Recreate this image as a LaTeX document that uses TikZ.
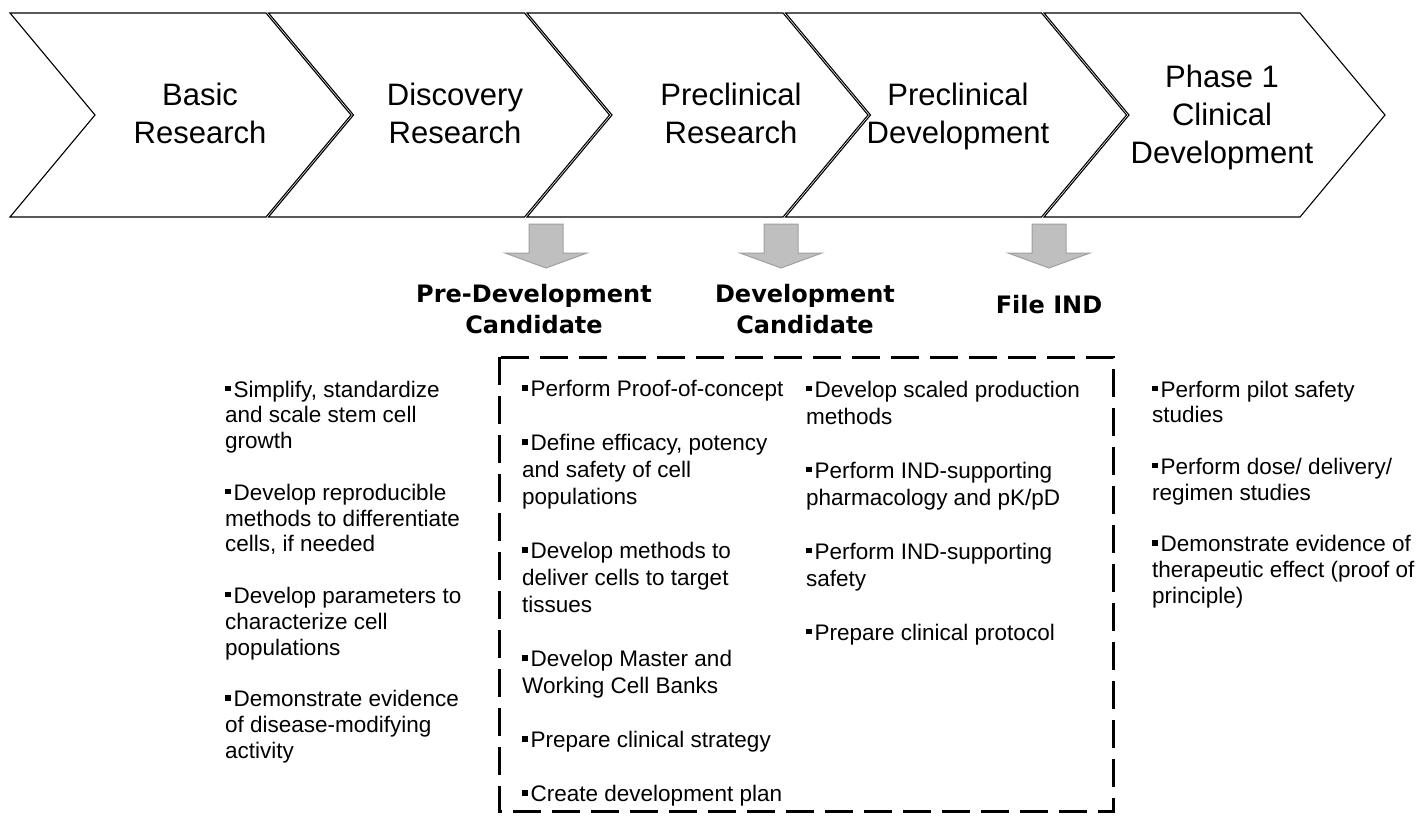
\documentclass[tikz,border=0pt]{standalone}
\usepackage{fontspec}
\usepackage{tikz}
\setmainfont{Liberation Sans}
\newfontfamily\headfont{DejaVu Sans}
\definecolor{arrowgray}{RGB}{191,191,191}
\definecolor{arrowedge}{RGB}{160,160,160}
\newcommand{\sqbullet}{\rule[6pt]{5.5pt}{5.5pt}\hspace{3pt}}

\begin{document}
\begin{tikzpicture}[x=1pt,y=-1pt,
  chev/.style={draw=black,line width=1.1pt,fill=white,line join=miter},
  stage/.style={font=\fontsize{31}{38}\selectfont,align=center,inner sep=0pt,anchor=north},
  milestone/.style={font=\headfont\bfseries\fontsize{24}{31}\selectfont,align=center,inner sep=0pt,anchor=north},
  downarrow/.style={fill=arrowgray,draw=arrowedge,line width=1pt},
  task/.style={font=\fontsize{22.5}{25.8}\selectfont,align=left,inner sep=0pt,anchor=north west},
  boxtask/.style={task,font=\fontsize{22.5}{27}\selectfont},
  taskbox/.style={draw=black,line width=3pt,dash pattern=on 28pt off 11pt}]
\useasboundingbox (0,0) rectangle (1416,817);
\foreach \i in {0,...,4}{
  \pgfmathsetmacro{\xl}{10+258.5*\i}
  \draw[chev] (\xl,13) -- (\xl+256,13) -- (\xl+341,115) -- (\xl+256,217) -- (\xl,217) -- (\xl+85,115) -- cycle;
}
\node[stage] (basic) at (200,83) {Basic\\Research};
\node[stage] (discovery) at (455,83) {Discovery\\Research};
\node[stage] (preres) at (731,83) {Preclinical\\Research};
\node[stage] (predev) at (958,83) {Preclinical\\Development};
\node[stage] (phase) at (1222,65) {Phase 1\\Clinical\\Development};
\foreach \cx in {546,781,1049}
  \draw[downarrow] (\cx-17,224) -- (\cx+17,224) -- (\cx+17,253) -- (\cx+41,253) -- (\cx,268) -- (\cx-41,253) -- (\cx-17,253) -- cycle;
\node[milestone] (predc) at (534,284) {Pre-Development\\Candidate};
\node[milestone] (devc) at (805,284) {Development\\Candidate};
\node[milestone] (ind) at (1049,295) {File IND};
\draw[taskbox] (499,357) rectangle (1113,811);
\node[task] (basictasks) at (225,380.5) {\sqbullet Simplify, standardize\\and scale stem cell\\growth\\[25.8pt]
\sqbullet Develop reproducible\\methods to differentiate\\cells, if needed\\[25.8pt]
\sqbullet Develop parameters to\\characterize cell\\populations\\[25.8pt]
\sqbullet Demonstrate evidence\\of disease-modifying\\activity};
\node[boxtask] (pretasks) at (522,380.5) {\sqbullet Perform Proof-of-concept\\[27pt]
\sqbullet Define efficacy, potency\\and safety of cell\\populations\\[27pt]
\sqbullet Develop methods to\\deliver cells to target\\tissues\\[27pt]
\sqbullet Develop Master and\\Working Cell Banks\\[27pt]
\sqbullet Prepare clinical strategy\\[27pt]
\sqbullet Create development plan};
\node[boxtask] (devtasks) at (806,380.5) {\sqbullet Develop scaled production\\methods\\[27pt]
\sqbullet Perform IND-supporting\\pharmacology and pK/pD\\[27pt]
\sqbullet Perform IND-supporting\\safety\\[27pt]
\sqbullet Prepare clinical protocol};
\node[task] (clintasks) at (1152,380.5) {\sqbullet Perform pilot safety\\studies\\[25.8pt]
\sqbullet Perform dose/ delivery/\\regimen studies\\[25.8pt]
\sqbullet Demonstrate evidence of\\therapeutic effect (proof of\\principle)};
\end{tikzpicture}
\end{document}
